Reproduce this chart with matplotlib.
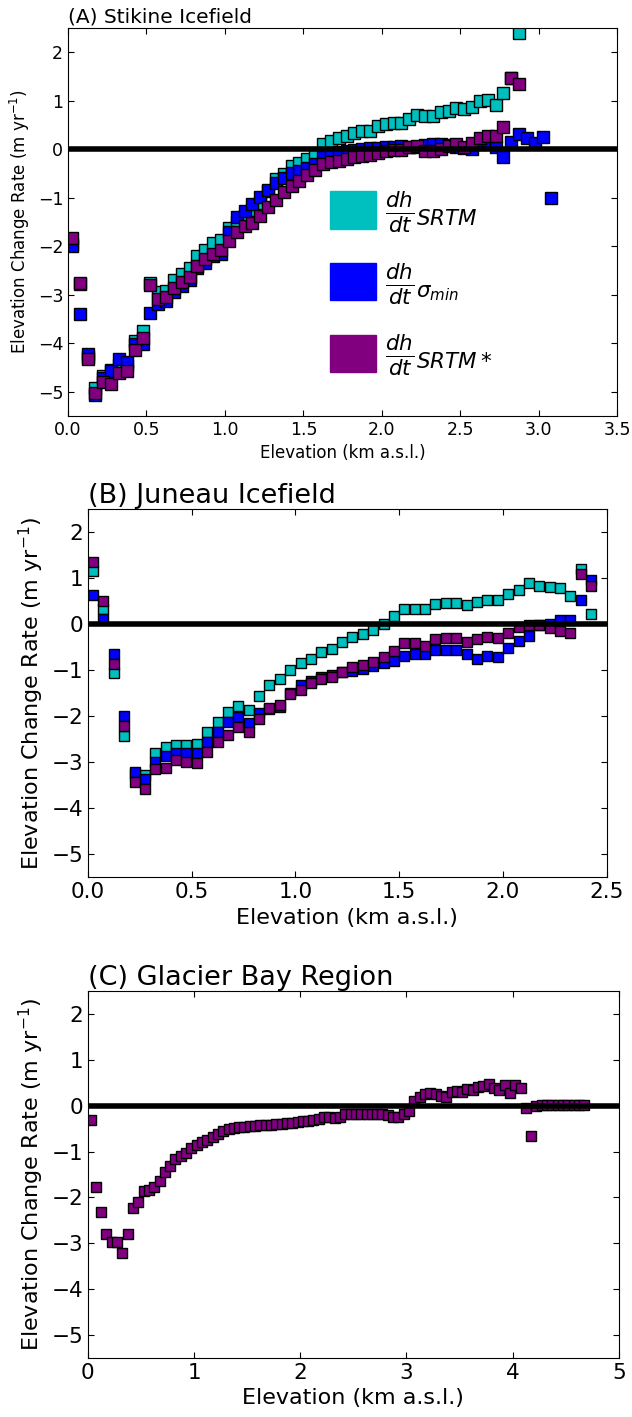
import numpy as np
import matplotlib
matplotlib.use('Agg')
import matplotlib.pyplot as plt
from matplotlib.patches import Patch

# elevation bins (km a.s.l.)
elev_a = [0.025, 0.075, 0.125, 0.175, 0.225, 0.275, 0.325, 0.375, 0.425, 0.475,
          0.525, 0.575, 0.625, 0.675, 0.725, 0.775, 0.825, 0.875, 0.925, 0.975,
          1.025, 1.075, 1.125, 1.175, 1.225, 1.275, 1.325, 1.375, 1.425, 1.475,
          1.525, 1.575, 1.625, 1.675, 1.725, 1.775, 1.825, 1.875, 1.925, 1.975,
          2.025, 2.075, 2.125, 2.175, 2.225, 2.275, 2.325, 2.375, 2.425, 2.475,
          2.525, 2.575, 2.625, 2.675, 2.725, 2.775, 2.825, 2.875, 2.925, 2.975,
          3.025, 3.075]

# (A) Stikine Icefield
stikine_srtm = [-1.95, -2.78, -4.28, -4.93, -4.68, -4.55, -4.45, -4.45, -3.95, -3.75,
                -2.75, -2.95, -2.93, -2.70, -2.58, -2.45, -2.20, -2.08, -1.93, -1.88,
                -1.63, -1.50, -1.38, -1.25, -1.10, -0.85, -0.62, -0.50, -0.35, -0.28,
                -0.20, -0.10, 0.11, 0.18, 0.23, 0.28, 0.33, 0.38, 0.38, 0.49,
                0.52, 0.55, 0.55, 0.62, 0.70, 0.69, 0.69, 0.76, 0.79, 0.86,
                0.83, 0.88, 1.00, 1.01, 0.91, 1.17, 1.48, 2.39]
stikine_sigma = [-2.00, -3.40, -4.22, -5.06, -4.72, -4.58, -4.32, -4.38, -4.02, -4.02,
                 -3.38, -3.20, -3.12, -2.95, -2.82, -2.70, -2.45, -2.35, -2.20, -2.15,
                 -1.70, -1.40, -1.27, -1.12, -0.98, -0.83, -0.69, -0.60, -0.49, -0.45,
                 -0.38, -0.30, -0.16, -0.10, -0.06, -0.03, -0.01, 0.00, 0.02, 0.03,
                 0.05, 0.05, 0.06, 0.05, 0.05, 0.08, 0.11, 0.11, 0.08, 0.05,
                 0.02, 0.00, 0.10, 0.14, 0.04, -0.15, 0.16, 0.32, 0.23, 0.12,
                 0.25, -1.00]
stikine_star = [-1.83, -2.76, -4.33, -5.02, -4.79, -4.83, -4.62, -4.57, -4.13, -3.90,
                -2.80, -3.08, -3.05, -2.85, -2.73, -2.63, -2.40, -2.27, -2.15, -2.07,
                -1.90, -1.70, -1.59, -1.53, -1.38, -1.20, -1.05, -0.89, -0.76, -0.65,
                -0.52, -0.42, -0.30, -0.27, -0.25, -0.20, -0.16, -0.13, -0.11, -0.08,
                -0.04, -0.01, -0.01, 0.04, 0.06, -0.03, -0.03, 0.01, 0.06, 0.10,
                0.04, 0.14, 0.23, 0.28, 0.28, 0.47, 1.48, 1.34]

# (B) Juneau Icefield
elev_b = [0.025, 0.075, 0.125, 0.175, 0.225, 0.275, 0.325, 0.375, 0.425, 0.475,
          0.525, 0.575, 0.625, 0.675, 0.725, 0.775, 0.825, 0.875, 0.925, 0.975,
          1.025, 1.075, 1.125, 1.175, 1.225, 1.275, 1.325, 1.375, 1.425, 1.475,
          1.525, 1.575, 1.625, 1.675, 1.725, 1.775, 1.825, 1.875, 1.925, 1.975,
          2.025, 2.075, 2.125, 2.175, 2.225, 2.275, 2.325, 2.375, 2.425]
juneau_srtm = [1.15, 0.33, -1.06, -2.43, -3.25, -3.28, -2.81, -2.68, -2.63, -2.63,
               -2.61, -2.34, -2.12, -1.92, -1.78, -1.86, -1.57, -1.33, -1.20, -0.99,
               -0.85, -0.75, -0.60, -0.53, -0.39, -0.28, -0.22, -0.13, 0.00, 0.17,
               0.32, 0.32, 0.32, 0.44, 0.46, 0.46, 0.41, 0.49, 0.52, 0.52,
               0.65, 0.75, 0.90, 0.83, 0.81, 0.79, 0.62, 1.19, 0.22]
juneau_sigma = [0.64, 0.11, -0.65, -1.99, -3.21, -3.36, -2.99, -2.87, -2.80, -2.81,
                -2.80, -2.56, -2.34, -2.12, -2.01, -2.16, -1.94, -1.85, -1.80, -1.50,
                -1.32, -1.23, -1.14, -1.10, -1.05, -1.02, -0.97, -0.90, -0.84, -0.80,
                -0.70, -0.65, -0.65, -0.57, -0.57, -0.57, -0.64, -0.75, -0.70, -0.71,
                -0.51, -0.37, -0.26, -0.02, 0.01, 0.09, 0.09, 0.52, 0.96]
juneau_star = [1.34, 0.51, -0.86, -2.22, -3.43, -3.59, -3.16, -3.12, -2.96, -2.99,
               -3.01, -2.78, -2.57, -2.41, -2.23, -2.34, -2.07, -1.83, -1.76, -1.52,
               -1.43, -1.29, -1.19, -1.16, -1.05, -0.94, -0.89, -0.82, -0.71, -0.58,
               -0.41, -0.42, -0.47, -0.33, -0.31, -0.31, -0.38, -0.33, -0.29, -0.31,
               -0.20, -0.07, -0.01, -0.02, -0.09, -0.14, -0.19, 1.08, 0.83]

# (C) Glacier Bay Region
elev_c = [0.025, 0.075, 0.125, 0.175, 0.225, 0.275, 0.325, 0.375, 0.425, 0.475,
          0.525, 0.575, 0.625, 0.675, 0.725, 0.775, 0.825, 0.875, 0.925, 0.975,
          1.025, 1.075, 1.125, 1.175, 1.225, 1.275, 1.325, 1.375, 1.425, 1.475,
          1.525, 1.575, 1.625, 1.675, 1.725, 1.775, 1.825, 1.875, 1.925, 1.975,
          2.025, 2.075, 2.125, 2.175, 2.225, 2.275, 2.325, 2.375, 2.425, 2.475,
          2.525, 2.575, 2.625, 2.675, 2.725, 2.775, 2.825, 2.875, 2.925, 2.975,
          3.025, 3.075, 3.125, 3.175, 3.225, 3.275, 3.325, 3.375, 3.425, 3.475,
          3.525, 3.575, 3.625, 3.675, 3.725, 3.775, 3.825, 3.875, 3.925, 3.975,
          4.025, 4.075, 4.125, 4.175, 4.225, 4.275, 4.325, 4.375, 4.425, 4.475,
          4.525, 4.575, 4.625, 4.675]
glacierbay_star = [-0.31, -1.77, -2.31, -2.79, -2.97, -2.97, -3.22, -2.79, -2.24, -2.09,
                   -1.85, -1.84, -1.78, -1.64, -1.45, -1.31, -1.16, -1.09, -1.03, -0.93,
                   -0.86, -0.80, -0.74, -0.68, -0.62, -0.56, -0.51, -0.48, -0.46, -0.46,
                   -0.45, -0.45, -0.43, -0.43, -0.41, -0.40, -0.39, -0.38, -0.37, -0.36,
                   -0.34, -0.33, -0.31, -0.28, -0.25, -0.24, -0.27, -0.24, -0.19, -0.19,
                   -0.19, -0.19, -0.19, -0.19, -0.19, -0.19, -0.20, -0.24, -0.25, -0.18,
                   -0.12, 0.11, 0.18, 0.25, 0.27, 0.25, 0.22, 0.20, 0.31, 0.33,
                   0.31, 0.36, 0.34, 0.41, 0.44, 0.47, 0.38, 0.34, 0.46, 0.27,
                   0.46, 0.39, -0.06, -0.65, -0.01, 0.02, 0.02, 0.02, 0.02, 0.02,
                   0.02, 0.02, 0.02, 0.02]

c_srtm = '#00bfbf'
c_sigma = '#0000ff'
c_star = '#800080'

plt.rcParams['xtick.direction'] = 'in'
plt.rcParams['ytick.direction'] = 'in'
plt.rcParams['xtick.top'] = True
plt.rcParams['ytick.right'] = True
plt.rcParams['xtick.major.size'] = 4
plt.rcParams['ytick.major.size'] = 4
plt.rcParams['mathtext.fontset'] = 'dejavusans'

fig = plt.figure(figsize=(6.32, 14.17), dpi=100)


def panel(rect, title, xmax, xstep, series, fs_tick, fs_lab, fs_title, ms):
    ax = fig.add_axes(rect)
    for x, y, col in series:
        ax.plot(x[:len(y)], y, 's', color=col, ms=ms, mec='k', mew=1, zorder=2)
    ax.axhline(0, color='k', lw=4, zorder=3)
    ax.set_xlim(0, xmax)
    ax.set_ylim(-5.5, 2.5)
    ax.set_xticks(np.arange(0, xmax + 0.01, xstep))
    ax.set_yticks(range(-5, 3))
    ax.tick_params(labelsize=fs_tick)
    ax.set_xlabel('Elevation (km a.s.l.)', fontsize=fs_lab)
    ax.set_ylabel('Elevation Change Rate (m yr$^{-1}$)', fontsize=fs_lab)
    ax.set_title(title, loc='left', fontsize=fs_title, pad=4)
    return ax


ax1 = panel([0.1076, 0.7064, 0.869, 0.2738], '(A) Stikine Icefield', 3.5, 0.5,
            [(elev_a, stikine_srtm, c_srtm), (elev_a, stikine_sigma, c_sigma),
             (elev_a, stikine_star, c_star)], 12.5, 12, 14.5, 8)
ax1.xaxis.set_major_formatter(plt.FormatStrFormatter('%.1f'))

handles = [Patch(color=c_srtm), Patch(color=c_sigma), Patch(color=c_star)]
labels = [r'$\frac{dh}{dt}_{SRTM}$', r'$\frac{dh}{dt}_{\sigma_{min}}$',
          r'$\frac{dh}{dt}_{SRTM*}$']
ax1.legend(handles, labels, loc='upper left', bbox_to_anchor=(0.477, 0.585),
           frameon=False, fontsize=22, handlelength=1.5, handleheight=1.5,
           handletextpad=0.3, labelspacing=0.85, borderpad=0, borderaxespad=0)

ax2 = panel([0.139, 0.381, 0.821, 0.2597], '(B) Juneau Icefield', 2.5, 0.5,
            [(elev_b, juneau_srtm, c_srtm), (elev_b, juneau_sigma, c_sigma),
             (elev_b, juneau_star, c_star)], 15.5, 16, 19.5, 7.5)
ax2.xaxis.set_major_formatter(plt.FormatStrFormatter('%.1f'))

ax3 = panel([0.139, 0.0416, 0.840, 0.259], '(C) Glacier Bay Region', 5, 1,
            [(elev_c, glacierbay_star, c_star)], 15.5, 16, 19.5, 7.5)

fig.savefig('out.png', dpi=100)
